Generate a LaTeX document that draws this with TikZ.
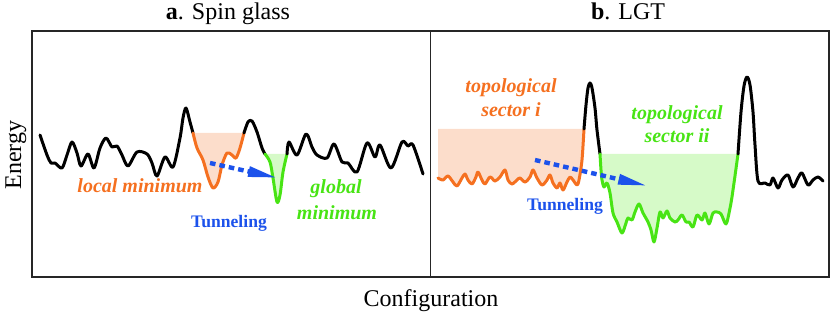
\documentclass[tikz,border=0pt]{standalone}
\usepackage{fontspec}
\setmainfont{Liberation Serif}
\usetikzlibrary{arrows.meta}
\definecolor{lorange}{RGB}{245,112,32}
\definecolor{lorangefill}{RGB}{252,221,203}
\definecolor{lgreen}{RGB}{72,228,20}
\definecolor{lgreenfill}{RGB}{214,250,200}
\definecolor{lblue}{RGB}{28,82,235}

% landscape pieces
\newcommand\sgOrange{plot[smooth] coordinates {(193,133) (197,148) (203,160) (208,177) (213,188) (218,182) (222,165) (227,153) (232,155) (236,158) (240,148) (244,133)}}
\newcommand\sgGreen{plot[smooth] coordinates {(265,154) (270,162) (273,178) (277,202) (280,195) (283,172) (287,154)}}
\newcommand\lgtOrange{plot[smooth] coordinates {(438,178) (443,180) (448,176) (453,182) (457,186) (462,178) (465,174) (468,180) (472,184) (476,177) (478,172) (482,180) (485,184) (490,177) (495,181) (500,177) (505,170) (508,180) (512,184) (517,180) (520,178) (525,182) (530,177) (533,170) (537,178) (542,185) (547,180) (550,175) (553,183) (557,188) (560,183) (563,190) (567,182) (570,177) (573,180) (577,185) (579,180) (582,160) (584,129)}}
\newcommand\lgtGreen{plot[smooth] coordinates {(600,154) (601,170) (602,180) (604,187) (607,183) (610,193) (613,213) (617,222) (622,233) (626,223) (628,218) (632,220) (635,212) (639,204) (643,213) (648,222) (651,230) (654,242) (657,228) (660,212) (663,218) (667,211) (670,218) (675,222) (678,220) (682,215) (686,222) (689,222) (693,227) (697,215) (702,220) (705,213) (709,224) (713,213) (717,212) (721,214) (725,223) (727,222) (731,203) (734,183) (738,154)}}

\begin{document}
\begin{tikzpicture}[x=0.5pt,y=-0.5pt,
  curve/.style={line width=1.5pt, line join=round, line cap=round},
  tunnel/.style={lblue, line width=2.2pt, dash pattern=on 2.8pt off 2pt, -{Triangle[length=15pt,width=4.8pt]}},
  lbl/.style={font=\fontsize{10}{12}\selectfont\bfseries\itshape, anchor=base, inner sep=0pt},
  tlbl/.style={font=\fontsize{8.8}{10}\selectfont\bfseries, text=lblue, anchor=base, inner sep=0pt},
  ttl/.style={font=\fontsize{12}{14}\selectfont, anchor=base, inner sep=0pt}]
  \useasboundingbox (0,0) rectangle (830,314);

  % Frame
  \draw[line width=0.7pt, black!85] (32,31) rectangle (829,277);
  \draw[line width=0.7pt, black!85] (430.5,31) -- (430.5,277);

  % Titles and axes
  \node[ttl] (ttla) at (228,20) {\textbf{a}. Spin glass};
  \node[ttl] (ttlb) at (628,20) {\textbf{b}. LGT};
  \node[ttl, rotate=90] (energy) at (21,155) {Energy};
  \node[ttl] (config) at (431,307) {Configuration};

  % Spin glass
  \fill[lorangefill] \sgOrange -- cycle;
  \fill[lgreenfill] \sgGreen -- cycle;
  \draw[curve] plot[smooth] coordinates {(40,135) (47,155) (51,163) (55,163) (62,168) (67,155) (72,142) (77,153) (81,166) (88,154) (94,168) (100,148) (106,138) (112,147) (117,146) (122,155) (128,166) (137,152) (147,154) (152,163) (157,176) (165,157) (173,167) (180,138) (183,118) (186,108) (190,122) (193,133)};
  \draw[curve, lorange] \sgOrange;
  \draw[curve] plot[smooth] coordinates {(244,133) (248,122) (252,121) (257,132) (262,148) (265,154)};
  \draw[curve, lgreen] \sgGreen;
  \draw[curve] plot[smooth] coordinates {(287,154) (289,142) (297,155) (306,134) (312,147) (317,155) (327,158) (334,144) (342,162) (348,163) (357,172) (367,143) (375,157) (380,145) (391,168) (402,142) (408,146) (413,145) (423,174)};

  \coordinate (sgfrom) at (210,163);
  \coordinate (sgto) at (278,178);
  \draw[tunnel] (sgfrom) -- (sgto);

  \node[lbl, text=lorange] (sglocal) at (140,193) {local minimum};
  \node[tlbl] (sgtunnel) at (229,228) {Tunneling};
  \node[lbl, text=lgreen] (sgglobal) at (336,194) {global};
  \node[lbl, text=lgreen] (sgmin) at (337,220) {minimum};

  % LGT
  \fill[lorangefill] \lgtOrange -- (584,129) -- (438,129) -- cycle;
  \fill[lgreenfill] \lgtGreen -- cycle;
  \draw[curve, lorange] \lgtOrange;
  \draw[curve] plot[smooth] coordinates {(584,129) (586,105) (588,88) (590,83) (592,88) (595,108) (597,130) (600,154)};
  \draw[curve, lgreen] \lgtGreen;
  \draw[curve] plot[smooth] coordinates {(738,154) (741,112) (744,86) (747,77) (750,85) (753,112) (755,145) (758,181) (765,183) (770,185) (773,178) (778,188) (782,180) (788,175) (793,187) (798,178) (802,173) (808,185) (813,180) (818,177) (823,181)};

  \coordinate (lgtfrom) at (535,160);
  \coordinate (lgtto) at (648,186);
  \draw[tunnel] (lgtfrom) -- (lgtto);

  \node[lbl, text=lorange] (secia) at (511,93) {topological};
  \node[lbl, text=lorange] (secib) at (511,117) {sector i};
  \node[lbl, text=lgreen] (seciia) at (677,120) {topological};
  \node[lbl, text=lgreen] (seciib) at (677,143) {sector ii};
  \node[tlbl] (lgttunnel) at (565,211) {Tunneling};
\end{tikzpicture}
\end{document}
